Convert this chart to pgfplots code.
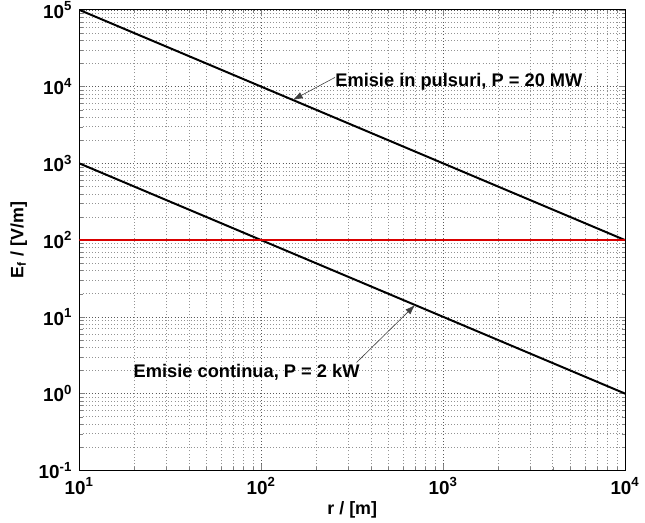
\documentclass[border=0pt]{standalone}
\usepackage{fontspec}
\setmainfont{Liberation Sans}
\usepackage{pgfplots}
\pgfplotsset{compat=1.18}
\usetikzlibrary{calc,arrows.meta}

\begin{document}
\begin{tikzpicture}
\begin{loglogaxis}[
    scale only axis,
    width=275pt, height=232pt,
    xmin=10, xmax=10000,
    ymin=0.1, ymax=100000,
    xtick={10,100,1000,10000},
    xticklabels={10\textsuperscript{1},10\textsuperscript{2},10\textsuperscript{3},10\textsuperscript{4}},
    ytick={0.1,1,10,100,1000,10000,100000},
    yticklabels={10\textsuperscript{-1},10\textsuperscript{0},10\textsuperscript{1},10\textsuperscript{2},10\textsuperscript{3},10\textsuperscript{4},10\textsuperscript{5}},
    tick label style={font=\fontsize{9.5}{11}\selectfont\bfseries},
    label style={font=\fontsize{9}{11}\selectfont\bfseries},
    xlabel={r / [m]},
    ylabel={E\textsubscript{f} / [V/m]},
    xlabel style={yshift=3pt},
    ylabel style={yshift=-1pt},
    tick align=inside,
    major tick length=3pt,
    minor tick length=1.8pt,
    axis line style={line width=0.5pt},
    grid=both,
    major grid style={dash pattern=on 0.5pt off 1.1pt, gray!70!black, line width=0.35pt},
    minor grid style={dash pattern=on 0.5pt off 1.1pt, gray!85, line width=0.3pt},
]
% camp in emisie in pulsuri, P = 20 MW
\addplot[black, line width=1pt] coordinates {(10,100000) (10000,100)};
% camp in emisie continua, P = 2 kW
\addplot[black, line width=1pt] coordinates {(10,1000) (10000,1)};
% limita 100 V/m
\addplot[red!85!black, line width=0.9pt] coordinates {(10,100) (10000,100)};

\draw[-{Latex[length=5pt,width=3.5pt]}, line width=0.3pt, black!75]
    (axis cs:254,13200) -- (axis cs:149,6711);
\node[anchor=west, inner sep=0pt, font=\fontsize{9.2}{11}\selectfont\bfseries]
    at (axis cs:254,11700) {Emisie in pulsuri, P = 20 MW};
\draw[-{Latex[length=5pt,width=3.5pt]}, line width=0.3pt, black!75]
    (axis cs:334,2.55) -- (axis cs:700,14.3);
\node[anchor=west, inner sep=0pt, font=\fontsize{9.2}{11}\selectfont\bfseries]
    at (axis cs:19.8,1.9) {Emisie continua, P = 2 kW};
\end{loglogaxis}
\pgfresetboundingbox
\path ($(current axis.south west)+(-40pt,-26.5pt)$) rectangle ($(current axis.north east)+(10pt,5pt)$);
\end{tikzpicture}
\end{document}
